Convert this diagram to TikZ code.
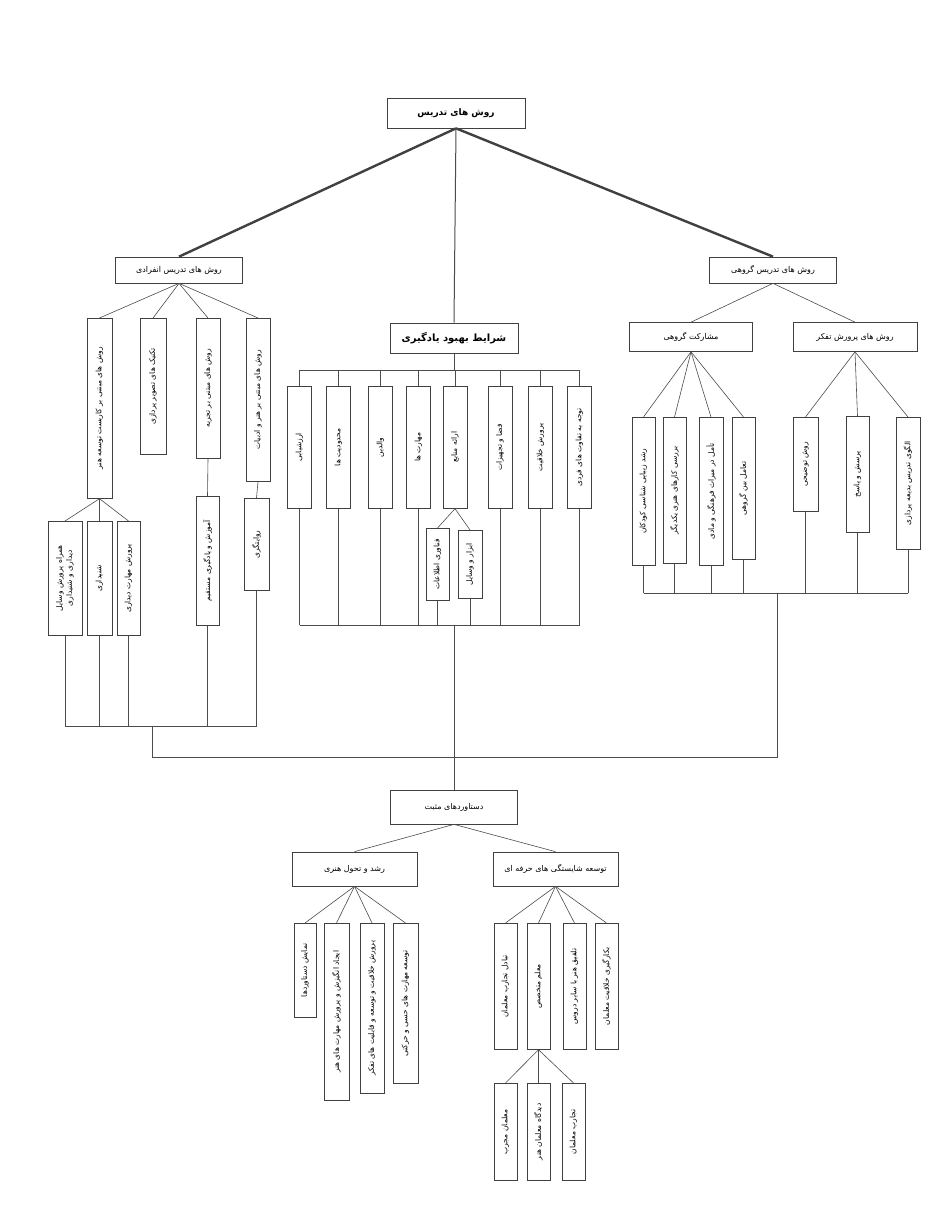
\documentclass[tikz,border=0pt]{standalone}
\usepackage{fontspec}
\newfontfamily\fa[Script=Arabic]{DejaVu Sans}
\TeXXeTstate=1

% horizontal and vertical (rotated) Persian text
\newcommand{\hfa}[1]{\beginR #1\endR}
\newcommand{\vfa}[1]{\rotatebox{90}{\beginR #1\endR}}

\begin{document}
\begin{tikzpicture}[x=1pt, y=-1pt,
    box/.style={draw=black!75, line width=0.7pt, fill=white, text=black,
      inner sep=1pt, font=\fa\fontsize{8}{9.5}\selectfont},
    vbox/.style={box, anchor=north, font=\fa\fontsize{7.5}{9}\selectfont},
    link/.style={draw=black!70, line width=0.6pt},
    trunk/.style={draw=black!75, line width=2.4pt}]

  \useasboundingbox[fill=white] (0,0) rectangle (934,1207);

  % --- Head ---
  \node[box, minimum width=138, minimum height=30, font=\fa\bfseries\fontsize{9}{10}\selectfont]
    (top) at (456,113) {\hfa{روش های تدریس}};
  \node[box, minimum width=127, minimum height=26] (solo) at (179,270) {\hfa{روش های تدریس انفرادی}};
  \node[box, minimum width=127, minimum height=26] (group) at (773,270) {\hfa{روش های تدریس گروهی}};
  \node[box, minimum width=128, minimum height=30, font=\fa\bfseries\fontsize{10}{11}\selectfont]
    (cond) at (454,338) {\hfa{شرایط بهبود یادگیری}};

  \draw[trunk] (top.south) -- (solo.north);
  \draw[trunk] (top.south) -- (group.north);
  \draw[link, line width=1pt] (top.south) -- (cond.north);

  % --- Individual methods ---
  \node[vbox, minimum width=25, minimum height=180] (sA) at (99.5,318) {\vfa{روش های مبتنی بر کاربست توسعه هنر}};
  \node[vbox, minimum width=26, minimum height=136] (sB) at (153,318) {\vfa{تکنیک های تصویر پردازی}};
  \node[vbox, minimum width=24, minimum height=140] (sC) at (208,318) {\vfa{روش های مبتنی بر تجربه}};
  \node[vbox, minimum width=24, minimum height=163] (sD) at (258,318) {\vfa{روش های مبتنی بر هنر و ادبیات}};
  \foreach \n in {sA,sB,sC,sD}
    \draw[link] (solo.south) -- (\n.north);

  \node[vbox, minimum width=34, minimum height=114] (sA1) at (65,521)
    {\rotatebox{90}{\begin{tabular}{@{}c@{}}\beginR همراه پرورش وسایل\endR\\[1pt]\beginR دیداری و شنیداری\endR\end{tabular}}};
  \node[vbox, minimum width=25, minimum height=114] (sA2) at (99.5,521) {\vfa{شنیداری}};
  \node[vbox, minimum width=23, minimum height=114] (sA3) at (128.5,521) {\vfa{پرورش مهارت دیداری}};
  \node[vbox, minimum width=23, minimum height=129] (sC1) at (207.5,496) {\vfa{آموزش و یادگیری مستقیم}};
  \node[vbox, minimum width=25, minimum height=92] (sD1) at (256.5,498) {\vfa{روایتگری}};
  \foreach \n in {sA1,sA2,sA3}
    \draw[link] (sA.south) -- (\n.north);
  \draw[link] (sC.south) -- (sC1.north);
  \draw[link] (sD.south) -- (sD1.north);

  % --- Conditions ---
  \coordinate (cbar) at (0,370);
  \coordinate (cbus) at (0,625);
  \foreach \n/\x/\t in {c1/299.5/ارزشیابی, c2/338.5/محدودیت ها, c3/380.5/والدین,
      c4/418.5/مهارت ها, c5/455/ارائه منابع, c6/500/فضا و تجهیزات,
      c7/540.5/پرورش خلاقیت, c8/579.5/توجه به تفاوت های فردی} {
    \node[vbox, minimum width=24, minimum height=122] (\n) at (\x,386) {\vfa{\t}};
    \draw[link] (\n.north |- cbar) -- (\n.north);
  }
  \draw[link] (cond.south) -- (cond.south |- cbar);
  \draw[link] (c1.north |- cbar) -- (c8.north |- cbar);

  \node[vbox, minimum width=23, minimum height=72] (c5a) at (437.5,528) {\vfa{فناوری اطلاعات}};
  \node[vbox, minimum width=24, minimum height=68] (c5b) at (470,530) {\vfa{ابزار و وسایل}};
  \draw[link] (c5.south) -- (c5a.north);
  \draw[link] (c5.south) -- (c5b.north);

  \foreach \n in {c1,c2,c3,c4,c5a,c5b,c6,c7,c8}
    \draw[link] (\n.south) -- (\n.south |- cbus);
  \draw[link] (c1.south |- cbus) -- (c8.south |- cbus);

  % --- Group methods ---
  \node[box, minimum width=123, minimum height=29] (part) at (691,337) {\hfa{مشارکت گروهی}};
  \node[box, minimum width=124, minimum height=29] (think) at (855,337) {\hfa{روش های پرورش تفکر}};
  \draw[link] (group.south) -- (part.north);
  \draw[link] (group.south) -- (think.north);

  \node[vbox, minimum width=23, minimum height=148] (p1) at (643.5,417) {\vfa{رشد زیبایی شناسی کودکان}};
  \node[vbox, minimum width=23, minimum height=146] (p2) at (674.5,417) {\vfa{بررسی کارهای هنری یکدیگر}};
  \node[vbox, minimum width=24, minimum height=148] (p3) at (711,417) {\vfa{تأمل در میراث فرهنگی و مادی}};
  \node[vbox, minimum width=23, minimum height=142] (p4) at (743.5,417) {\vfa{تعامل بین گروهی}};
  \foreach \n in {p1,p2,p3,p4}
    \draw[link] (part.south) -- (\n.north);

  \node[vbox, minimum width=25, minimum height=94] (t1) at (805.5,417) {\vfa{روش توضیحی}};
  \node[vbox, minimum width=23, minimum height=116] (t2) at (857.5,416) {\vfa{پرسش و پاسخ}};
  \node[vbox, minimum width=24, minimum height=132] (t3) at (908,417) {\vfa{الگوی تدریس بدیعه پردازی}};
  \foreach \n in {t1,t2,t3}
    \draw[link] (think.south) -- (\n.north);

  % --- Collecting lines ---
  \coordinate (lbus) at (0,726);
  \coordinate (rbus) at (0,593);
  \coordinate (bbus) at (0,757);
  \coordinate (ljoin) at (152,726);
  \coordinate (rjoin) at (777,593);

  \foreach \n in {sA1,sA2,sA3,sC1,sD1}
    \draw[link] (\n.south) -- (\n.south |- lbus);
  \draw[link] (sA1.south |- lbus) -- (sD1.south |- lbus);

  \foreach \n in {p1,p2,p3,p4,t1,t2,t3}
    \draw[link] (\n.south) -- (\n.south |- rbus);
  \draw[link] (p1.south |- rbus) -- (t3.south |- rbus);

  \draw[link] (ljoin) -- (ljoin |- bbus) -- (rjoin |- bbus) -- (rjoin);

  % --- Outcomes ---
  \node[box, minimum width=127, minimum height=34] (gain) at (454,807) {\hfa{دستاوردهای مثبت}};
  \draw[link] (cond.south |- cbus) -- (gain.north);

  \node[box, minimum width=125, minimum height=34] (art) at (354.5,869) {\hfa{رشد و تحول هنری}};
  \node[box, minimum width=125, minimum height=34] (prof) at (555.5,869) {\hfa{توسعه شایستگی های حرفه ای}};
  \draw[link] (gain.south) -- (art.north);
  \draw[link] (gain.south) -- (prof.north);

  \node[vbox, minimum width=22, minimum height=94] (a1) at (305,923) {\vfa{نمایش دستاوردها}};
  \node[vbox, minimum width=25, minimum height=177] (a2) at (336.5,923) {\vfa{ایجاد انگیزش و پرورش مهارت های هنر}};
  \node[vbox, minimum width=24, minimum height=170] (a3) at (372,923) {\vfa{پرورش خلاقیت و توسعه و قابلیت های تفکر}};
  \node[vbox, minimum width=25, minimum height=160] (a4) at (405.5,923) {\vfa{توسعه مهارت های حسی و حرکتی}};
  \foreach \n in {a1,a2,a3,a4}
    \draw[link] (art.south) -- (\n.north);

  \foreach \n/\x/\t in {f1/505.5/تبادل تجارب معلمان, f2/538.5/معلم متخصص,
      f3/574.5/تلفیق هنر با سایر دروس, f4/606.5/بکارگیری خلاقیت معلمان} {
    \node[vbox, minimum width=23, minimum height=126] (\n) at (\x,923) {\vfa{\t}};
    \draw[link] (prof.south) -- (\n.north);
  }

  \foreach \n/\x/\t in {f2a/505.5/معلمان مجرب, f2b/538.5/دیدگاه معلمان هنر,
      f2c/573.5/تجارب معلمان} {
    \node[vbox, minimum width=23, minimum height=97] (\n) at (\x,1083) {\vfa{\t}};
    \draw[link] (f2.south) -- (\n.north);
  }

\end{tikzpicture}
\end{document}
